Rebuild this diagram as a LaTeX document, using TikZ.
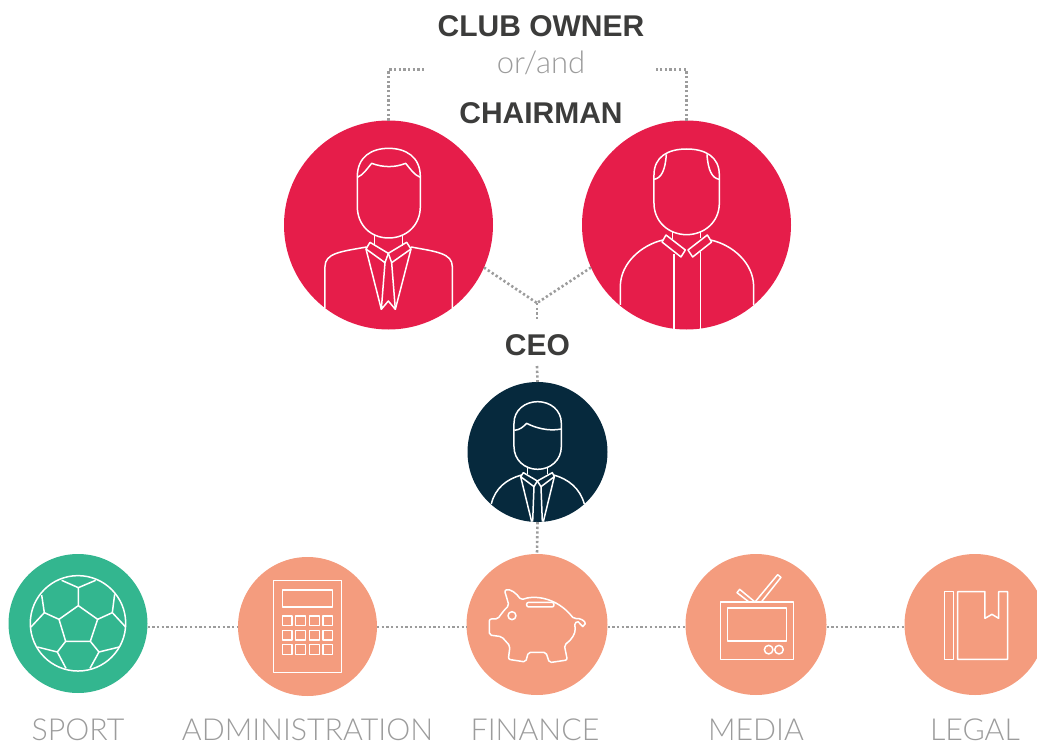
\documentclass[tikz,border=0pt]{standalone}
\usepackage{fontspec}
\setmainfont{Liberation Sans}
\newfontfamily\lightfont{Lato Light}
\usepackage{xcolor}
\usetikzlibrary{positioning}
\definecolor{crimson}{HTML}{E61D4A}
\definecolor{navy}{HTML}{06293D}
\definecolor{pitch}{HTML}{33B68F}
\definecolor{salmon}{HTML}{F49C7E}
\definecolor{inkgray}{HTML}{3C3C3B}
\definecolor{softgray}{HTML}{9C9C9C}
\begin{document}
\begin{tikzpicture}[x=1pt, y=-1pt,
    disc/.style={circle, inner sep=0pt, outer sep=0pt, minimum size=#1},
    dots/.style={softgray, line width=2.6pt, dash pattern=on 2.3pt off 2.4pt},
    icon/.style={white, line width=1.5pt, line join=round},
    title/.style={font=\fontsize{30}{34}\selectfont\bfseries, text=inkgray, inner sep=0pt},
    dept/.style={font=\lightfont\fontsize{30.3}{36}\selectfont, text=softgray, inner sep=0pt}]
    \useasboundingbox (0,0) rectangle (1037,744);

    % People
    \node[disc=209pt, fill=crimson] (owner) at (388.5,225) {};
    \node[disc=209pt, fill=crimson] (chairman) at (686.5,225) {};
    \node[disc=140pt, fill=navy] (ceo) at (537.5,452) {};

    % Departments
    \node[disc=139pt, fill=pitch] (sport) at (78,623.5) {};
    \node[disc=139pt, fill=salmon] (admin) at (307.5,626.5) {};
    \node[disc=141pt, fill=salmon] (finance) at (537,624.5) {};
    \node[disc=141pt, fill=salmon] (media) at (756,624.5) {};
    \node[disc=141pt, fill=salmon] (legal) at (975,624.5) {};

    % Titles
    \node[title] (ownerlabel) at (541,26) {CLUB OWNER};
    \node[dept, font=\lightfont\fontsize{31}{36}\selectfont] (orlabel) at (541,63) {or/and};
    \node[title] (chairlabel) at (541,113) {CHAIRMAN};
    \node[title] (ceolabel) at (537.5,345) {CEO};

    % Department labels
    \node[dept] (sportlabel) at (78,729.5) {SPORT};
    \node[dept] (adminlabel) at (307.5,729.5) {ADMINISTRATION};
    \node[dept] (financelabel) at (535,729.5) {FINANCE};
    \node[dept] (medialabel) at (756,729.5) {MEDIA};
    \node[dept] (legallabel) at (975,729.5) {LEGAL};

    % Dotted links
    \coordinate (ownerend) at (425,69.5);
    \coordinate (chairend) at (656,69.5);
    \coordinate (join) at (537,303);
    \coordinate (joinend) at (537,319);
    \coordinate (ceotop) at (537,366);
    \coordinate (rowline) at (0,627);
    \draw[dots] (owner.north) |- (ownerend);
    \draw[dots] (chairman.north) |- (chairend);
    \draw[dots] (owner.-24) -- (join);
    \draw[dots] (chairman.204) -- (join);
    \draw[dots] (join) -- (joinend);
    \draw[dots] (ceotop) -- (ceo.north);
    \draw[dots] (ceo.south) -- (finance.north);
    \draw[dots] (sport.east |- rowline) -- (admin.west |- rowline);
    \draw[dots] (admin.east |- rowline) -- (finance.west |- rowline);
    \draw[dots] (finance.east |- rowline) -- (media.west |- rowline);
    \draw[dots] (media.east |- rowline) -- (legal.west |- rowline);

    % Owner figure
    \begin{scope}[shift={(280,120)}, x=0.3333pt, y=-0.3333pt, icon]
        \draw (232,170) .. controls (232,110) and (275,85) .. (326,85)
            .. controls (377,85) and (421,110) .. (421,170) -- (421,260)
            .. controls (421,315) and (380,354) .. (326,354)
            .. controls (272,354) and (232,315) .. (232,260) -- cycle;
        \draw (232,172) .. controls (250,165) and (262,145) .. (275,130)
            .. controls (310,143) and (345,143) .. (377,130)
            .. controls (390,145) and (402,165) .. (421,172);
        \draw (284,345) -- (284,378) (368,345) -- (368,378);
        \draw (270,367) -- (325,400) -- (315,428) -- (258,387) -- cycle;
        \draw (380,367) -- (325,400) -- (335,428) -- (393,387) -- cycle;
        \draw (315,428) -- (304,568) -- (325,543) -- (346,568) -- (335,428);
        \draw (258,387) -- (304,568) (393,387) -- (346,568);
        \draw (135,565) -- (135,440) .. controls (135,400) and (180,395) .. (260,381);
        \draw (517,565) -- (517,440) .. controls (517,400) and (470,395) .. (393,381);
    \end{scope}

    % Chairman figure
    \begin{scope}[shift={(578,120)}, x=0.3333pt, y=-0.3333pt, icon]
        \draw (228,165) .. controls (228,110) and (270,87) .. (326,87)
            .. controls (382,87) and (424,110) .. (424,165) -- (424,250)
            .. controls (424,305) and (380,344) .. (326,344)
            .. controls (272,344) and (228,305) .. (228,250) -- cycle;
        \draw (265,103) .. controls (262,150) and (250,175) .. (228,178);
        \draw (387,103) .. controls (390,150) and (402,175) .. (424,178);
        \draw (284,335) -- (284,358) (368,335) -- (368,354);
        \draw (264,345) -- (322,390) -- (309,411) -- (252,366) -- cycle;
        \draw (388,345) -- (330,390) -- (344,411) -- (401,366) -- cycle;
        \draw (288,403) -- (288,627) (367,395) -- (367,627);
        \draw (127,555) -- (127,500) .. controls (127,430) and (190,375) .. (255,360);
        \draw (527,555) -- (527,500) .. controls (527,430) and (465,375) .. (398,360);
    \end{scope}

    % CEO figure
    \begin{scope}[shift={(460,375)}, x=0.3333pt, y=-0.3333pt, icon]
        \draw (162,145) .. controls (162,105) and (195,80) .. (233,80)
            .. controls (271,80) and (304,105) .. (304,145) -- (304,215)
            .. controls (304,255) and (272,283) .. (233,283)
            .. controls (194,283) and (162,255) .. (162,215) -- cycle;
        \draw (163,166) .. controls (180,165) and (190,155) .. (200,145)
            .. controls (225,158) and (265,170) .. (304,162);
        \draw (203,275) -- (203,297) (263,275) -- (263,297);
        \draw (190,293) -- (232,318) -- (222,335) -- (182,305) -- cycle;
        \draw (277,293) -- (232,318) -- (243,335) -- (283,305) -- cycle;
        \draw (222,335) -- (218,440) (243,335) -- (247,440);
        \draw (182,305) -- (215,440) (283,305) -- (250,440);
        \draw (94,387) .. controls (105,340) and (140,312) .. (185,300);
        \draw (373,387) .. controls (360,340) and (325,312) .. (281,300);
    \end{scope}

    % Football
    \begin{scope}[shift={(0,545)}, x=0.3333pt, y=-0.3333pt, icon]
        \draw (234,235) circle (47.7pt);
        \draw (235,182) -- (293,223) -- (271,289) -- (197,289) -- (177,223) -- cycle;
        \draw (235,182) -- (235,128) (185,106) -- (235,128) -- (287,106);
        \draw (177,223) -- (133,203) (125,150) -- (133,203) -- (93,246);
        \draw (293,223) -- (337,203) (344,148) -- (337,203) -- (377,246);
        \draw (197,289) -- (172,321) (112,306) -- (172,321) -- (198,370);
        \draw (271,289) -- (297,321) (358,306) -- (297,321) -- (270,370);
    \end{scope}

    % Calculator
    \begin{scope}[shift={(0,545)}, x=0.3333pt, y=-0.3333pt, icon]
        \draw (821,107) rectangle (1024,383);
        \draw (847,135) rectangle (998,186);
        \foreach \bx in {847,887,929,969}
            \foreach \by in {213,256,299}
                \draw (\bx,\by) rectangle (\bx+29,\by+29);
    \end{scope}

    % Piggy bank
    \begin{scope}[shift={(460,545)}, x=0.3333pt, y=-0.3333pt, icon]
        \draw[rounded corners=2pt] (88,222) -- (113,222) .. controls (125,205) and (135,192) .. (147,182)
            .. controls (142,165) and (138,150) .. (133,137)
            .. controls (150,130) and (170,145) .. (183,165)
            .. controls (220,150) and (290,155) .. (342,222)
            .. controls (358,218) and (378,228) .. (374,242)
            .. controls (368,245) and (362,238) .. (360,233)
            .. controls (350,228) and (344,235) .. (345,245)
            .. controls (347,265) and (335,285) .. (313,300)
            -- (322,345) -- (268,353) -- (258,322) -- (205,322) -- (197,351)
            -- (145,343) -- (150,303) -- (125,275) -- (88,270) -- cycle;
        \draw (156,212) circle (4pt);
        \draw[rounded corners=2pt] (200,172) rectangle (282,186);
    \end{scope}

    % Television
    \begin{scope}[shift={(680,545)}, x=0.3333pt, y=-0.3333pt, icon]
        \draw (122,171) rectangle (340,343);
        \draw (143,189) rectangle (319,288);
        \draw (266,314) circle (4.3pt) (297,314) circle (4.3pt);
        \draw (207,171) -- (171,143) -- (179,133) -- (225,171) -- (293,89) -- (303,97) -- (244,171);
    \end{scope}

    % Book
    \begin{scope}[shift={(680,545)}, x=0.3333pt, y=-0.3333pt, icon]
        \draw (793,140) rectangle (821,343);
        \draw (833,343) -- (833,140) -- (915,140) -- (915,220) -- (936,208) -- (956,220)
            -- (956,140) -- (983,140) -- (983,343) -- cycle;
    \end{scope}
\end{tikzpicture}
\end{document}
